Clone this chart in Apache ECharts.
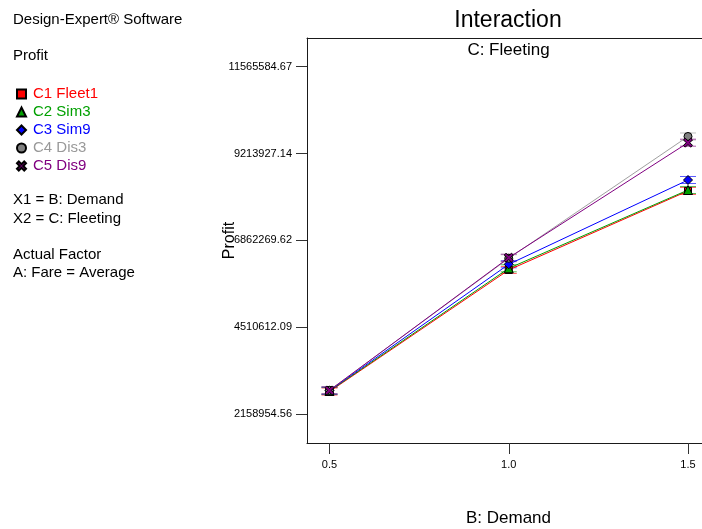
<!DOCTYPE html>
<html>
<head>
<meta charset="utf-8">
<script src="https://cdn.jsdelivr.net/npm/echarts@6/dist/echarts.min.js"></script>
<style>
  html, body { margin: 0; padding: 0; background: #ffffff; }
  #chart { width: 702px; height: 529px; }
</style>
</head>
<body>
<div id="chart"></div>
<script>
// Interaction of Demand (B) and Fleeting (C) on Profit, Fare held at Average
const demandLevels = [0.5, 1.0, 1.5];
const fleetingNames = ['C1 Fleet1', 'C2 Sim3', 'C3 Sim9', 'C4 Dis3', 'C5 Dis9'];

const profitFleet1 = [2765000, 6060000, 8200000];
const profitSim3   = [2780000, 6104000, 8225000];
const profitSim9   = [2790000, 6212000, 8496000];
const profitDis3   = [2800000, 6375000, 9675000];
const profitDis9   = [2795000, 6391000, 9507000];

const profitTicks = [2158954.56, 4510612.09, 6862269.62, 9213927.14, 11565584.67];
const demandTicks = [0.5, 1.0, 1.5];

// half width of the LSD bar drawn at every design point
const lsdHalfWidth = 95000;

const profitSeries = [profitFleet1, profitSim3, profitSim9, profitDis3, profitDis9];

const FONT = "'Liberation Sans', Arial, Helvetica, sans-serif";
const lineColors   = ['#ff0000', '#00a000', '#0000ff', '#a0a0a0', '#800080'];
const markerFills  = ['#ff0000', '#00a000', '#0000ff', '#808080', '#800080'];
const legendColors = ['#ff0000', '#00a000', '#0000ff', '#999999', '#800080'];
const crossPath = 'path://M2,0 L5,3 L8,0 L10,2 L7,5 L10,8 L8,10 L5,7 L2,10 L0,8 L3,5 L0,2 Z';
const markerShapes = ['rect', 'triangle', 'diamond', 'circle', crossPath];
const markerSizes  = [7, 9, 9, 8, 9];

// y range and x range of the plotting frame
const yMin = 1370485, yMax = 12343150;
const xMin = 0.43724, xMax = 1.53905;

const lsdData = [];
profitSeries.forEach((vals, k) => {
  vals.forEach((v, i) => lsdData.push([demandLevels[i], v, k]));
});

const chart = echarts.init(document.getElementById('chart'), null, { renderer: 'canvas' });

const lineSeries = profitSeries.map((vals, k) => ({
  name: fleetingNames[k],
  type: 'line',
  data: vals.map((v, i) => [demandLevels[i], v]),
  symbol: markerShapes[k],
  symbolSize: markerSizes[k],
  showSymbol: true,
  animation: false,
  z: 3,
  lineStyle: { color: lineColors[k], width: 1 },
  itemStyle: { color: markerFills[k], borderColor: '#000000', borderWidth: 1 }
}));

const lsdSeries = {
  type: 'custom',
  data: lsdData,
  z: 2,
  animation: false,
  silent: true,
  renderItem: function (params, api) {
    const x = api.value(0), y = api.value(1), k = api.value(2);
    const lo = api.coord([x, y - lsdHalfWidth]);
    const hi = api.coord([x, y + lsdHalfWidth]);
    const c = lineColors[k];
    const hw = 8;
    return {
      type: 'group',
      children: [
        { type: 'line', shape: { x1: lo[0], y1: lo[1], x2: hi[0], y2: hi[1] }, style: { stroke: c, lineWidth: 1 } },
        { type: 'line', shape: { x1: lo[0] - hw, y1: lo[1], x2: lo[0] + hw, y2: lo[1] }, style: { stroke: c, lineWidth: 1, opacity: 0.65 } },
        { type: 'line', shape: { x1: hi[0] - hw, y1: hi[1], x2: hi[0] + hw, y2: hi[1] }, style: { stroke: c, lineWidth: 1, opacity: 0.65 } }
      ]
    };
  }
};

const sideText = (text, y) => ({
  type: 'text', left: 13, top: y - 9,
  style: { text: text, fill: '#000000', font: '15px ' + FONT }
});

chart.setOption({
  backgroundColor: '#ffffff',
  animation: false,
  grid: { left: 307, top: 38, right: 0, bottom: 86, containLabel: false },
  xAxis: [
    {
      type: 'value', min: xMin, max: xMax, position: 'bottom',
      axisLine: { show: true, onZero: false, lineStyle: { color: '#1a1a1a', width: 1 } },
      axisTick: { show: true, inside: false, length: 11, customValues: demandTicks, lineStyle: { color: '#333333' } },
      axisLabel: {
        show: true, margin: 16, customValues: demandTicks,
        formatter: v => Number(v).toFixed(1),
        color: '#000000', fontSize: 11, fontFamily: FONT
      },
      splitLine: { show: false }
    },
    {
      type: 'value', min: xMin, max: xMax, position: 'top',
      axisLine: { show: true, onZero: false, lineStyle: { color: '#1a1a1a', width: 1 } },
      axisTick: { show: false }, axisLabel: { show: false }, splitLine: { show: false }
    }
  ],
  yAxis: {
    type: 'value', min: yMin, max: yMax,
    name: 'Profit', nameLocation: 'middle', nameGap: 69, nameRotate: 90,
    nameMoveOverlap: false,
    nameTextStyle: { color: '#000000', fontSize: 16, fontFamily: FONT },
    axisLine: { show: true, onZero: false, lineStyle: { color: '#1a1a1a', width: 1 } },
    axisTick: { show: true, inside: false, length: 11, customValues: profitTicks, lineStyle: { color: '#333333' } },
    axisLabel: {
      show: true, margin: 15, customValues: profitTicks,
      formatter: v => Number(v).toFixed(2),
      color: '#000000', fontSize: 11, fontFamily: FONT
    },
    splitLine: { show: false }
  },
  legend: {
    orient: 'vertical', left: 16, top: 85, padding: 0,
    itemWidth: 9, itemHeight: 9, itemGap: 0,
    selectedMode: false,
    textStyle: { fontSize: 15, fontFamily: FONT, lineHeight: 18, padding: [0, 0, 0, 2] },
    data: fleetingNames.map((n, k) => ({ name: n, icon: markerShapes[k], textStyle: { color: legendColors[k] } }))
  },
  graphic: [
    sideText('Design-Expert® Software', 21.5),
    sideText('Profit', 57.5),
    sideText('X1 = B: Demand', 201.7),
    sideText('X2 = C: Fleeting', 220),
    sideText('Actual Factor', 256),
    sideText('A: Fare = Average', 274),
    {
      type: 'text', x: 508, y: 21,
      style: { text: 'Interaction', fill: '#000000', font: '23px ' + FONT, textAlign: 'center', textVerticalAlign: 'middle' }
    },
    {
      type: 'text', x: 508.5, y: 50.5,
      style: { text: 'C: Fleeting', fill: '#000000', font: '17px ' + FONT, textAlign: 'center', textVerticalAlign: 'middle' }
    },
    {
      type: 'text', x: 508.5, y: 518,
      style: { text: 'B: Demand', fill: '#000000', font: '17px ' + FONT, textAlign: 'center', textVerticalAlign: 'middle' }
    }
  ],
  series: [lsdSeries].concat(lineSeries)
});
</script>
</body>
</html>
